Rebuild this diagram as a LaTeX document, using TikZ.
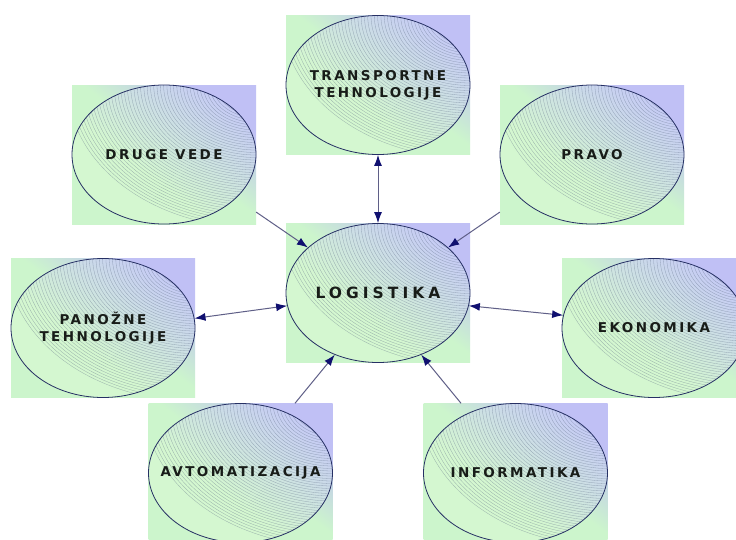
\documentclass[tikz,border=0pt]{standalone}
\usepackage{fontspec}
\setmainfont{DejaVu Sans}
\newfontfamily\topicfont{DejaVu Sans}[LetterSpace=18]
\newfontfamily\mainfont{DejaVu Sans}[LetterSpace=26]
\usetikzlibrary{positioning, shapes.geometric, arrows.meta}

\definecolor{boxgreen}{RGB}{204,245,204}
\definecolor{boxlav}{RGB}{192,192,245}
\definecolor{ellgreen}{RGB}{212,247,208}
\definecolor{elllav}{RGB}{198,204,244}
\definecolor{ellline}{RGB}{38,48,100}
\definecolor{hatchc}{RGB}{90,105,130}
\definecolor{linkgray}{RGB}{95,95,135}
\definecolor{headnavy}{RGB}{16,16,112}
\definecolor{txtgray}{RGB}{24,28,24}

\pgfdeclareverticalshading{boxshade}{100bp}{color(0bp)=(boxgreen); color(52bp)=(boxgreen); color(73bp)=(boxlav); color(100bp)=(boxlav)}
\pgfdeclareverticalshading{ellshade}{100bp}{color(0bp)=(ellgreen); color(42bp)=(ellgreen); color(74bp)=(elllav); color(100bp)=(elllav)}

\tikzset{
  hd/.tip={Latex[length=11pt,width=8pt,color=headnavy]},
  topicbox/.style={rectangle, minimum width=184pt, minimum height=139pt, inner sep=0pt,
    shade, shading=boxshade, shading angle=-37},
  topic/.style={ellipse, draw=ellline, line width=0.8pt, minimum width=184pt, minimum height=139pt,
    inner sep=0pt, shade, shading=ellshade, shading angle=-37,
    path picture={\foreach \i in {1,...,57}
      \draw[hatchline] (path picture bounding box.north east) ellipse [x radius=1.32*\i*2.5pt, y radius=\i*2.5pt];}},
  hatchline/.style={draw=hatchc, line width=0.3pt, opacity=0.5},
  topictext/.style={font=\topicfont\bfseries\fontsize{13.5}{17}\selectfont, text=txtgray, align=center},
  maintext/.style={font=\mainfont\bfseries\fontsize{15.5}{18}\selectfont, text=txtgray},
  link/.style={draw=linkgray, line width=1pt},
}

\begin{document}
\begin{tikzpicture}[x=1pt, y=-1pt]
  \useasboundingbox[fill=white] (0,0) rectangle (736,539);

  % topics round the centre
  \foreach \nm/\pos/\txt in {
      tt/{378,85}/{TRANSPORTNE\\TEHNOLOGIJE},
      dv/{164,154.5}/{DRUGE VEDE},
      pv/{592,154.5}/{PRAVO},
      pn/{103,328}/{PANOŽNE\\TEHNOLOGIJE},
      ek/{654,328}/{EKONOMIKA},
      av/{240.5,473}/{AVTOMATIZACIJA},
      inf/{515.5,473}/{INFORMATIKA}}
  {
    \node[topicbox] (\nm-box) at (\pos) {};
    \node[topic] (\nm) at (\pos) {};
    \node[topictext] (\nm-text) at (\pos) {\txt};
  }

  % centre
  \node[topicbox] (lg-box) at (378,293) {};
  \node[topic] (lg) at (378,293) {};
  \node[maintext] (lg-text) at (lg) {LOGISTIKA};

  % links
  \draw[link, hd-hd] (tt.south) -- (lg.north);
  \draw[link, -hd] (dv-box.-32) -- (lg.147);
  \draw[link, -hd] (pv-box.212) -- (lg.33);
  \draw[link, hd-hd] (pn.6) -- (lg.188);
  \draw[link, hd-hd] (lg.-8) -- (ek.172);
  \draw[link, -hd] (av-box.52) -- (lg.235);
  \draw[link, -hd] (inf-box.128) -- (lg.-55);
\end{tikzpicture}
\end{document}
